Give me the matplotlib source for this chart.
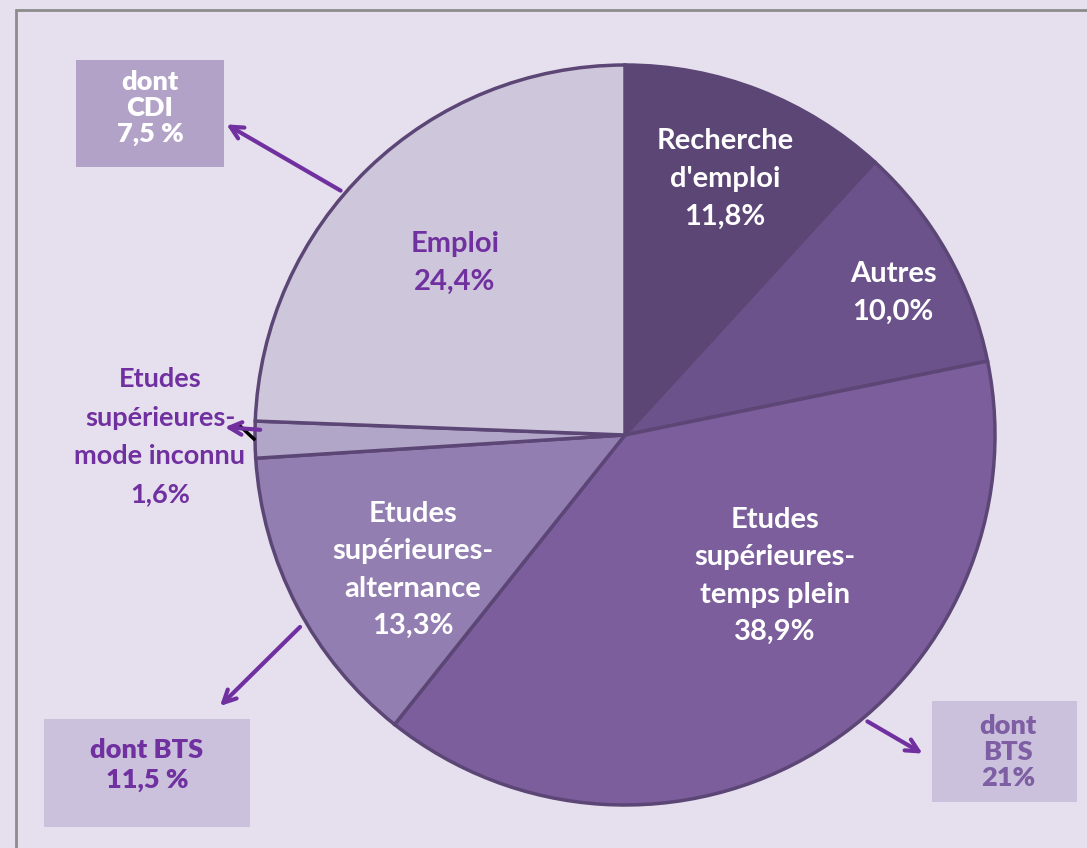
import matplotlib
matplotlib.use('Agg')
import matplotlib.pyplot as plt
from matplotlib.patches import Rectangle

# Data
labels = ['Recherche\nd\'emploi', 'Autres', 'Etudes\nsupérieures-\ntemps plein',
          'Etudes\nsupérieures-\nalternance', 'Etudes\nsupérieures-\nmode inconnu', 'Emploi']
values = [11.8, 10.0, 38.9, 13.3, 1.6, 24.4]
colors = ['#5C4676', '#6B528A', '#7B5E9B', '#927EB0', '#B2A6C8', '#CEC6DA']
pct_text = ['11,8%', '10,0%', '38,9%', '13,3%', '1,6%', '24,4%']

W, H = 1087, 848
bg = '#E6E0EE'
purple = '#7030A0'
font = 'Lato'

fig = plt.figure(figsize=(W / 100, H / 100), dpi=100)
fig.patch.set_facecolor(bg)
ax = fig.add_axes([0, 0, 1, 1])

# frame
ax.add_patch(Rectangle((16, -20), W + 40, H - 10 + 20, fill=False, ec='#8C8C8C', lw=2))

cx, cy, r = 625, H - 435, 370
ax.pie(values, colors=colors, startangle=90, counterclock=False, center=(cx, cy), radius=r,
       wedgeprops=dict(edgecolor='#5C4676', linewidth=2.5), frame=True)
ax.set_xlim(0, W)
ax.set_ylim(0, H)
ax.set_aspect('equal')
ax.axis('off')

def txt(x, y, s, color='white', size=21, weight='bold', ls=1.55):
    ax.text(x, H - y, s, ha='center', va='center', color=color, fontsize=size,
            fontweight=weight, family=font, linespacing=ls)

# slice labels
txt(725, 179, labels[0] + '\n' + pct_text[0])
txt(893, 293, labels[1] + '\n' + pct_text[1])
txt(775, 576, labels[2] + '\n' + pct_text[2])
txt(413, 570, labels[3] + '\n' + pct_text[3])
txt(160, 437, labels[4] + '\n' + pct_text[4], color=purple, size=19.5, ls=1.72)
txt(455, 263, labels[5] + '\n' + pct_text[5], color=purple)

# callout boxes
ax.add_patch(Rectangle((76, H - 167), 148, 107, fc='#B2A2C8', ec='none'))
txt(150, 108, 'dont\nCDI\n7,5 %', size=19.5, weight='heavy', ls=1.08)
ax.add_patch(Rectangle((44, H - 827), 206, 108, fc='#CBC1DC', ec='none'))
txt(147, 765, 'dont BTS\n11,5 %', color=purple, size=19.5, weight='heavy', ls=1.3)
ax.add_patch(Rectangle((932, H - 802), 145, 101, fc='#CBC1DC', ec='none'))
txt(1008, 752, 'dont\nBTS\n21%', color='#7E5FA4', size=19.5, weight='heavy', ls=1.08)

# arrows
def arrow(x0, y0, x1, y1):
    ax.annotate('', xy=(x1, H - y1), xytext=(x0, H - y0),
                arrowprops=dict(arrowstyle='->,head_length=0.9,head_width=0.45',
                                color=purple, lw=3))

arrow(343, 192, 224, 123)
arrow(302, 625, 218, 708)
arrow(865, 720, 925, 755)
ax.plot([240, 254], [H - 426, H - 439], color='black', lw=2.5)
arrow(263, 430, 222, 427)

fig.savefig('out.png', dpi=100, facecolor=bg)
